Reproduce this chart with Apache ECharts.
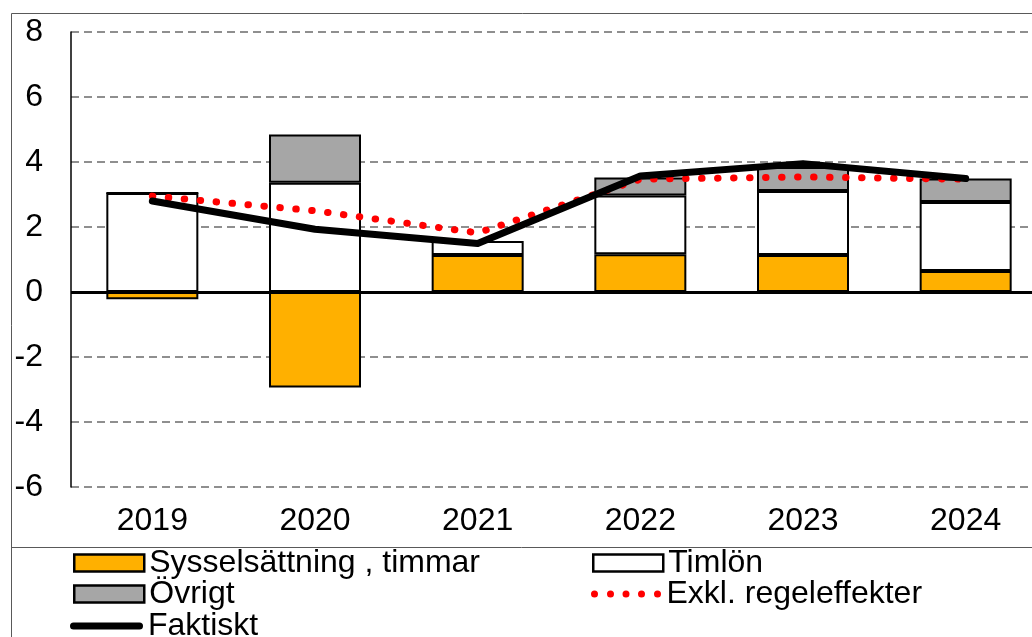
<!DOCTYPE html>
<html>
<head>
<meta charset="utf-8">
<script src="https://cdn.jsdelivr.net/npm/echarts@6/dist/echarts.min.js"></script>
<style>
  html, body { margin: 0; padding: 0; background: #fff; }
  #chart { width: 1032px; height: 637px; }
</style>
</head>
<body>
<div id="chart"></div>
<script>
  // kategorier och serier
  const years = ['2019', '2020', '2021', '2022', '2023', '2024'];
  const sysselsattning = [-0.22, -2.94, 1.14, 1.16, 1.14, 0.65];
  const timlon = [3.05, 3.36, 0.43, 1.81, 1.97, 2.12];
  const ovrigt = [0, 1.49, -0.06, 0.55, 0.74, 0.72];
  const exklRegel = [2.95, 2.5, 1.82, 3.47, 3.54, 3.47];
  const faktiskt = [2.8, 1.93, 1.49, 3.57, 3.95, 3.49];
  const yTicks = {min: -6, max: 8, interval: 2};

  const font = 'Arial, "Liberation Sans", sans-serif';
  const myChart = echarts.init(document.getElementById('chart'));

  // legend-ikoner för linjerna
  const dotsIcon = 'path://M0,3.5a3.5,3.5 0 1,0 7,0a3.5,3.5 0 1,0 -7,0Z'
    + 'M16,3.5a3.5,3.5 0 1,0 7,0a3.5,3.5 0 1,0 -7,0Z'
    + 'M31.5,3.5a3.5,3.5 0 1,0 7,0a3.5,3.5 0 1,0 -7,0Z'
    + 'M47,3.5a3.5,3.5 0 1,0 7,0a3.5,3.5 0 1,0 -7,0Z'
    + 'M63,3.5a3.5,3.5 0 1,0 7,0a3.5,3.5 0 1,0 -7,0Z';
  const lineIcon = 'path://M3.5,0L69.5,0A3.5,3.5 0 0,1 69.5,7L3.5,7A3.5,3.5 0 0,1 3.5,0Z';

  const legendBase = {
    padding: 0,
    itemWidth: 70,
    itemHeight: 17,
    itemGap: 6,
    selectedMode: false,
    textStyle: {fontFamily: font, fontSize: 32, color: '#000'}
  };

  const option = {
    backgroundColor: '#fff',
    animation: false,
    graphic: [
      {
        type: 'rect',
        shape: {x: 11.5, y: 13.5, width: 1100, height: 700},
        style: {fill: null, stroke: '#595959', lineWidth: 1},
        silent: true
      },
      {
        type: 'line',
        shape: {x1: 11, y1: 547.5, x2: 1032, y2: 547.5},
        style: {stroke: '#595959', lineWidth: 1},
        silent: true
      }
    ],
    grid: {
      left: 71,
      right: -15,
      top: 32,
      bottom: 150,
      outerBoundsMode: 'none'
    },
    legend: [
      Object.assign({}, legendBase, {left: 73, top: 547,
        itemStyle: {borderWidth: 2.5},
        data: [{name: 'Sysselsättning , timmar', icon: 'rect'}]}),
      Object.assign({}, legendBase, {left: 592, top: 547,
        itemStyle: {borderWidth: 2.5},
        data: [{name: 'Timlön', icon: 'rect'}]}),
      Object.assign({}, legendBase, {left: 73, top: 578,
        itemStyle: {borderWidth: 2.5},
        data: [{name: 'Övrigt', icon: 'rect'}]}),
      Object.assign({}, legendBase, {left: 591, top: 578, itemWidth: 71, itemHeight: 7,
        itemStyle: {color: '#FF0000', borderWidth: 0},
        data: [{name: 'Exkl. regeleffekter', icon: dotsIcon}]}),
      Object.assign({}, legendBase, {left: 70, top: 610, itemWidth: 73, itemHeight: 7,
        itemStyle: {color: '#000', borderWidth: 0},
        data: [{name: 'Faktiskt', icon: lineIcon}]})
    ],
    xAxis: {
      type: 'category',
      data: years,
      axisLine: {show: false},
      axisTick: {show: false},
      axisLabel: {fontFamily: font, fontSize: 32, color: '#000', margin: 18}
    },
    yAxis: {
      type: 'value',
      min: yTicks.min,
      max: yTicks.max,
      interval: yTicks.interval,
      axisLine: {show: true, lineStyle: {color: '#000', width: 1.5}},
      axisTick: {show: false},
      axisLabel: {fontFamily: font, fontSize: 32, color: '#000', margin: 28},
      splitLine: {
        show: true,
        lineStyle: {color: '#8f8f8f', width: 2, type: [8, 5]}
      }
    },
    series: [
      {
        name: 'Sysselsättning , timmar',
        type: 'bar',
        stack: 'bidrag',
        barWidth: 92,
        data: sysselsattning,
        itemStyle: {color: '#FFB000', borderColor: '#000', borderWidth: 2}
      },
      {
        name: 'Timlön',
        type: 'bar',
        stack: 'bidrag',
        barWidth: 92,
        data: timlon,
        itemStyle: {color: '#fff', borderColor: '#000', borderWidth: 2}
      },
      {
        name: 'Övrigt',
        type: 'bar',
        stack: 'bidrag',
        barWidth: 92,
        data: ovrigt,
        itemStyle: {color: '#A6A6A6', borderColor: '#000', borderWidth: 2}
      },
      {
        name: 'Exkl. regeleffekter',
        type: 'line',
        data: exklRegel,
        symbol: 'none',
        z: 4,
        color: '#FF0000',
        lineStyle: {color: '#FF0000', width: 7, type: [0.5, 15.5], cap: 'round'}
      },
      {
        name: 'Faktiskt',
        type: 'line',
        data: faktiskt,
        symbol: 'none',
        z: 5,
        color: '#000',
        lineStyle: {color: '#000', width: 7, cap: 'round', join: 'round'},
        markLine: {
          silent: true,
          symbol: 'none',
          label: {show: false},
          lineStyle: {color: '#000', width: 3, type: 'solid'},
          data: [{yAxis: 0}]
        }
      }
    ]
  };
  myChart.setOption(option);
</script>
</body>
</html>
